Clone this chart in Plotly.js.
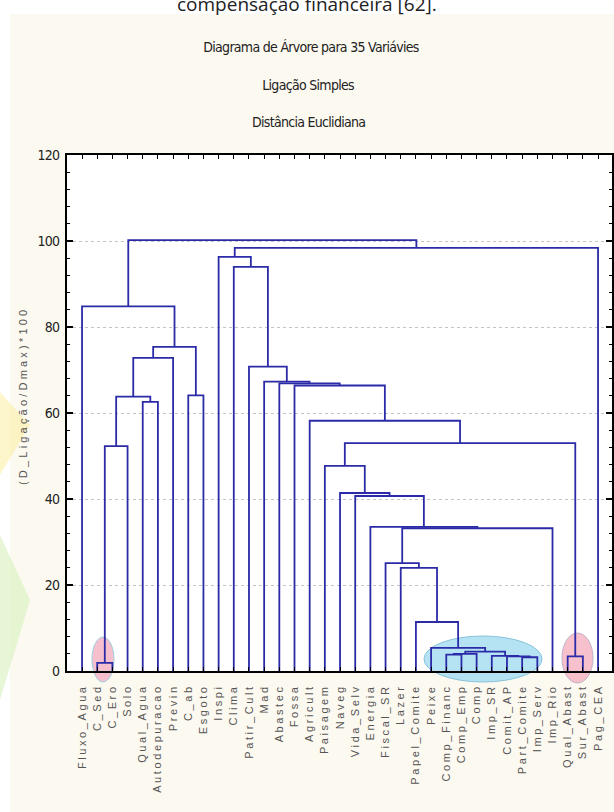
<!DOCTYPE html>
<html>
<head>
<meta charset="utf-8">
<script src="https://cdn.plot.ly/plotly-3.0.1.min.js"></script>
<style>
  html, body { margin: 0; padding: 0; background: #ffffff; width: 614px; height: 812px; overflow: hidden; }
  #cream { position: absolute; left: 10px; top: 14px; width: 604px; height: 798px; background: #fcf9f0; }
  #chart { position: absolute; left: 0; top: 0; width: 614px; height: 812px; }
  .xtick text { letter-spacing: 2.6px; }
  .ytick text { letter-spacing: -0.8px; }
  .gtitle { letter-spacing: -0.7px; }
  .annotation[data-index="1"] text, .annotation[data-index="2"] text { letter-spacing: -0.7px; }
  .annotation[data-index="3"] text { letter-spacing: 3.2px; }
</style>
</head>
<body>
<div id="cream"></div>
<div id="chart"></div>
<script>
// ---- data ----
const leafLabels = ["Fluxo_Agua","C_Sed","C_Ero","Solo","Qual_Agua","Autodepuracao","Previn","C_ab","Esgoto",
  "Inspi","Clima","Patir_Cult","Mad","Abastec","Fossa","Agricult","Paisagem","Naveg","Vida_Selv","Energia",
  "Fiscal_SR","Lazer","Papel_Comite","Peixe","Comp_Financ","Comp_Emp","Comp","Imp_SR","Comit_AP",
  "Part_Comite","Imp_Serv","Imp_Rio","Qual_Abast","Sur_Abast","Pag_CEA"];
// merges: node ids < 35 are leaves, id 35+k is merge k
const mergeLeft   = [1, 29, 28, 27, 32, 24, 40, 41, 23, 22, 21, 20, 46, 19, 18, 17, 16, 35, 51, 15, 4, 52, 7, 14, 13, 12, 11, 56, 62, 0, 10, 9, 66, 64];
const mergeRight  = [2, 30, 36, 37, 33, 25, 26, 38, 42, 43, 44, 45, 31, 47, 48, 49, 50, 3, 39, 53, 5, 55, 8, 54, 58, 59, 60, 6, 57, 63, 61, 65, 34, 67];
const mergeHeight = [1.9, 3.2, 3.4, 3.5, 3.4, 3.8, 4.0, 4.5, 5.4, 11.4, 24.0, 25.1, 33.2, 33.5, 40.7, 41.4, 47.7, 52.3, 53.0, 58.2, 62.6, 63.8, 64.1, 66.4, 66.9, 67.3, 70.8, 72.8, 75.4, 84.8, 94.0, 96.3, 98.4, 100.2];
const yTickValues = [0, 20, 40, 60, 80, 100, 120];

// ---- build dendrogram path through the data scales ----
const nodeX = leafLabels.map((_, i) => i);
const nodeH = leafLabels.map(() => 0);
const xs = [], ys = [];
for (let k = 0; k < mergeHeight.length; k++) {
  const a = mergeLeft[k], b = mergeRight[k], h = mergeHeight[k];
  xs.push(nodeX[a], nodeX[a], nodeX[b], nodeX[b], null);
  ys.push(nodeH[a], h, h, nodeH[b], null);
  nodeX.push((nodeX[a] + nodeX[b]) / 2);
  nodeH.push(h);
}

const trace = {
  type: 'scatter', mode: 'lines', x: xs, y: ys,
  line: { color: '#2b2ba8', width: 1.8 },
  hoverinfo: 'skip', showlegend: false
};

// layout helpers (page pixel -> paper fraction)
const PL = 67, PR = 612, PT = 155, PB = 671;
const px = v => (v - PL) / (PR - PL);
const py = v => (PB - v) / (PB - PT);

const narrow = "Liberation Sans Narrow, Arial Narrow, DejaVu Sans Condensed, sans-serif";

const layout = {
  width: 614, height: 812,
  margin: { l: PL, r: 614 - PR, t: PT, b: 812 - PB, pad: 0 },
  paper_bgcolor: 'rgba(0,0,0,0)',
  plot_bgcolor: '#ffffff',
  showlegend: false,
  title: {
    text: 'Diagrama de Árvore para 35 Variávies',
    font: { family: narrow, size: 14, color: '#222' },
    xref: 'container', x: 311 / 614, xanchor: 'center',
    yref: 'container', y: 1 - 47 / 812, yanchor: 'middle'
  },
  xaxis: {
    range: [-0.99, leafLabels.length - 0.08],
    tickmode: 'array',
    tickvals: leafLabels.map((_, i) => i),
    ticktext: leafLabels,
    tickangle: -90,
    ticks: 'inside', ticklen: 4, tickwidth: 1, tickcolor: '#000',
    ticklabelstandoff: 7,
    tickfont: { family: 'Liberation Sans, Arial, sans-serif', size: 11, color: '#555' },
    showline: true, linecolor: '#000', linewidth: 2, mirror: 'ticks',
    showgrid: false, zeroline: false, fixedrange: true
  },
  yaxis: {
    range: [0, 120],
    tickmode: 'array', tickvals: yTickValues, ticktext: yTickValues.map(String),
    ticks: 'inside', ticklen: 6, tickwidth: 1.5, tickcolor: '#000',
    minor: { dtick: 4, ticks: 'inside', ticklen: 3, tickwidth: 1, tickcolor: '#000', showgrid: false },
    ticklabelstandoff: 3,
    tickfont: { family: narrow, size: 14, color: '#222' },
    showline: true, linecolor: '#000', linewidth: 2, mirror: 'ticks',
    showgrid: true, gridcolor: '#c4c4c4', gridwidth: 1, griddash: 'dot',
    zeroline: false, fixedrange: true
  },
  annotations: [
    { text: 'compensação financeira [62].', xref: 'paper', yref: 'paper', x: px(307), y: py(4),
      xanchor: 'center', yanchor: 'middle', showarrow: false,
      font: { family: 'Open Sans, Liberation Sans, sans-serif', size: 19, color: '#222' } },
    { text: 'Ligação Simples', xref: 'paper', yref: 'paper', x: px(308), y: py(85),
      xanchor: 'center', yanchor: 'middle', showarrow: false,
      font: { family: narrow, size: 14, color: '#222' } },
    { text: 'Distância Euclidiana', xref: 'paper', yref: 'paper', x: px(308), y: py(122),
      xanchor: 'center', yanchor: 'middle', showarrow: false,
      font: { family: narrow, size: 14, color: '#222' } },
    { text: '(D_Ligação/Dmax)*100', xref: 'paper', yref: 'paper', x: px(23), y: py(396),
      xanchor: 'center', yanchor: 'middle', textangle: -90, showarrow: false,
      font: { family: 'Liberation Sans, Arial, sans-serif', size: 11, color: '#555' } }
  ],
  shapes: [
    // faint background watermark at the left edge
    { type: 'path', xref: 'paper', yref: 'paper', layer: 'below', line: { width: 0 },
      fillcolor: 'rgba(252,238,160,0.55)',
      path: `M ${px(0)} ${py(392)} L ${px(30)} ${py(425)} L ${px(0)} ${py(475)} Z` },
    { type: 'path', xref: 'paper', yref: 'paper', layer: 'below', line: { width: 0 },
      fillcolor: 'rgba(214,240,188,0.6)',
      path: `M ${px(0)} ${py(535)} L ${px(30)} ${py(600)} L ${px(0)} ${py(700)} Z` },
    // highlight ellipses
    { type: 'circle', xref: 'paper', yref: 'paper', layer: 'below',
      x0: px(92), x1: px(114), y0: py(682), y1: py(637),
      fillcolor: 'rgba(244,180,198,0.85)', line: { color: '#9fd0e0', width: 1 } },
    { type: 'circle', xref: 'paper', yref: 'paper', layer: 'below',
      x0: px(424), x1: px(542), y0: py(682), y1: py(636),
      fillcolor: 'rgba(168,222,242,0.85)', line: { color: '#86c2da', width: 1 } },
    { type: 'circle', xref: 'paper', yref: 'paper', layer: 'below',
      x0: px(562), x1: px(593), y0: py(683), y1: py(633),
      fillcolor: 'rgba(244,182,196,0.85)', line: { color: '#c0b0c8', width: 1 } }
  ]
};

Plotly.newPlot('chart', [trace], layout, { staticPlot: true, displayModeBar: false });
</script>
</body>
</html>
